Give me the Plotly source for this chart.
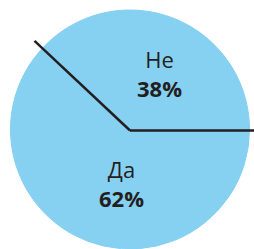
import math
import plotly.graph_objects as go

labels = ["Не", "Да"]
values = [38, 62]
pct_labels = ["38%", "62%"]

W, H = 254, 249
fill = "#86D0F2"
ink = "#231F20"

# pie placement in pixels
cx_px, cy_px, r_px = 130, 130.5, 120.5
dom_x = [(cx_px - r_px) / W, min(1, (cx_px + r_px) / W)]
dom_y = [1 - (cy_px + r_px) / H, 1 - (cy_px - r_px) / H]
dom_y = [max(0, dom_y[0]), min(1, dom_y[1])]

fig = go.Figure(go.Pie(
    labels=labels, values=values, sort=False,
    direction="counterclockwise", rotation=90,
    marker=dict(colors=[fill, fill], line=dict(width=1, color=fill)),
    textinfo="none", hoverinfo="skip", showlegend=False,
    domain=dict(x=dom_x, y=dom_y),
))

# separator lines derived from the data
total = sum(values)
angles = [0.0, 360.0 * values[0] / total]
L = 131
shapes = []
for a in angles:
    rad = math.radians(a)
    ex = cx_px + L * math.cos(rad)
    ey = cy_px - L * math.sin(rad)
    shapes.append(dict(type="line", xref="paper", yref="paper",
                       x0=cx_px / W, y0=1 - cy_px / H,
                       x1=ex / W, y1=1 - ey / H,
                       line=dict(color=ink, width=2.5)))

font_name = "Open Sans"
ann_pos = {"Не": (159, 74), "Да": (121, 183)}
annotations = []
for lab, pct in zip(labels, pct_labels):
    x, y = ann_pos[lab]
    annotations.append(dict(text=lab + "<br><b>" + pct + "</b>", x=x / W, y=1 - y / H,
                            xref="paper", yref="paper",
                            showarrow=False, xanchor="center", yanchor="middle",
                            align="center",
                            font=dict(family=font_name, size=22, color=ink)))

fig.update_layout(width=W, height=H, margin=dict(l=0, r=0, t=0, b=0),
                  paper_bgcolor="white", plot_bgcolor="white",
                  shapes=shapes, annotations=annotations)
fig.write_html("out.html", config={"displayModeBar": False},
               post_script="document.body.style.margin='0';document.body.style.overflow='hidden';")
